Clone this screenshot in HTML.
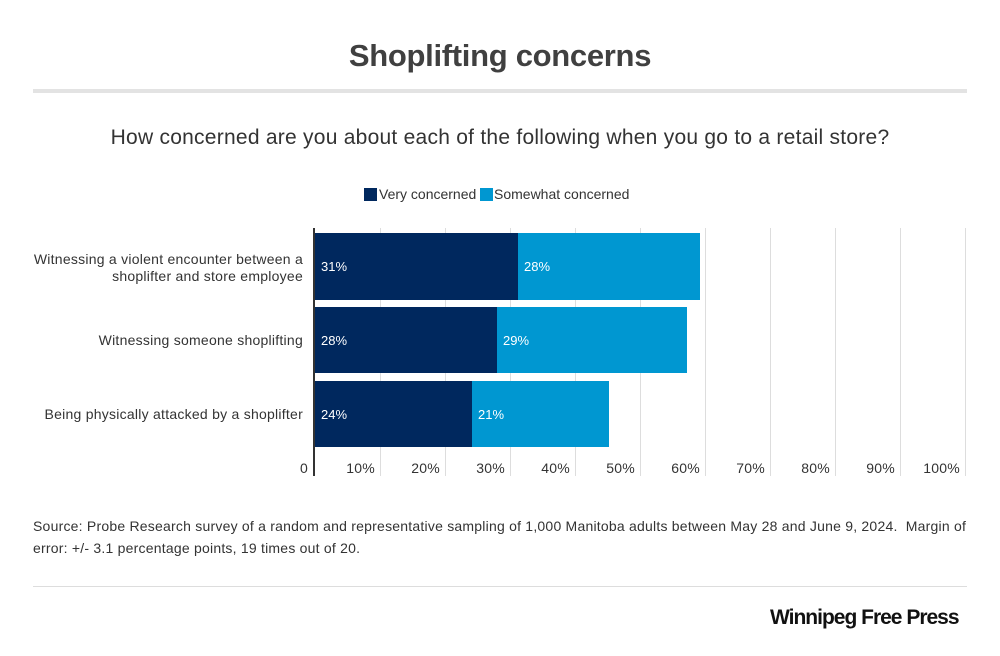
<!DOCTYPE html>
<html><head><meta charset="utf-8"><style>
body{margin:0;width:1000px;height:656px;background:#fff;font-family:"Liberation Sans",sans-serif;position:relative;overflow:hidden;color:#333}
.a{position:absolute}
</style></head><body>
<div class="a" style="left:0;width:1000px;top:38px;text-align:center;font-size:31px;font-weight:bold;color:#404040;letter-spacing:-0.3px">Shoplifting concerns</div>
<div class="a" style="left:33px;width:934px;top:89px;height:4px;background:#e3e3e3"></div>
<div class="a" style="left:0;width:1000px;top:126px;text-align:center;font-size:21px;letter-spacing:0.25px;color:#333">How concerned are you about each of the following when you go to a retail store?</div>
<div class="a" style="left:364px;top:188px;width:13px;height:13px;background:#00285e"></div>
<div class="a" style="left:379px;top:186px;font-size:14px">Very concerned</div>
<div class="a" style="left:480px;top:188px;width:13px;height:13px;background:#0097d1"></div>
<div class="a" style="left:494px;top:186px;font-size:14px">Somewhat concerned</div>
<svg class="a" style="left:0;top:0" width="1000" height="656">
<g stroke="#ddd" stroke-width="1">
<line x1="380.5" y1="228" x2="380.5" y2="476"/><line x1="445.5" y1="228" x2="445.5" y2="476"/><line x1="510.5" y1="228" x2="510.5" y2="476"/><line x1="575.5" y1="228" x2="575.5" y2="476"/><line x1="640.5" y1="228" x2="640.5" y2="476"/><line x1="705.5" y1="228" x2="705.5" y2="476"/><line x1="770.5" y1="228" x2="770.5" y2="476"/><line x1="835.5" y1="228" x2="835.5" y2="476"/><line x1="900.5" y1="228" x2="900.5" y2="476"/><line x1="965.5" y1="228" x2="965.5" y2="476"/>
</g>
<rect x="314" y="233" width="204" height="67" fill="#00285e"/><rect x="518" y="233" width="182" height="67" fill="#0097d1"/>
<rect x="314" y="307" width="183" height="66" fill="#00285e"/><rect x="497" y="307" width="190" height="66" fill="#0097d1"/>
<rect x="314" y="381" width="158" height="66" fill="#00285e"/><rect x="472" y="381" width="137" height="66" fill="#0097d1"/>
<line x1="314" y1="228" x2="314" y2="476" stroke="#333" stroke-width="2"/>
<g fill="#fff" font-size="13" font-family="Liberation Sans">
<text x="321" y="271">31%</text><text x="524" y="271">28%</text>
<text x="321" y="345">28%</text><text x="503" y="345">29%</text>
<text x="321" y="419">24%</text><text x="478" y="419">21%</text></g>
<g fill="#333" font-size="14" font-family="Liberation Sans" text-anchor="end" letter-spacing="0.25">
<text x="303" y="264">Witnessing a violent encounter between a</text>
<text x="303" y="281">shoplifter and store employee</text>
<text x="303" y="345">Witnessing someone shoplifting</text>
<text x="303" y="419">Being physically attacked by a shoplifter</text>
<text x="308" y="473">0</text><text x="375" y="473">10%</text><text x="440" y="473">20%</text><text x="505" y="473">30%</text><text x="570" y="473">40%</text><text x="635" y="473">50%</text><text x="700" y="473">60%</text><text x="765" y="473">70%</text><text x="830" y="473">80%</text><text x="895" y="473">90%</text><text x="960" y="473">100%</text>
</g></svg>
<div class="a" style="left:33px;top:515px;width:945px;font-size:14px;letter-spacing:0.22px;line-height:22px;color:#333">Source: Probe Research survey of a random and representative sampling of 1,000 Manitoba adults between May 28 and June 9, 2024.&nbsp; Margin of error: +/- 3.1 percentage points, 19 times out of 20.</div>
<div class="a" style="left:33px;width:934px;top:586px;height:1px;background:#ddd"></div>
<div class="a" style="left:770px;top:606px;font-size:21px;font-weight:bold;color:#111;letter-spacing:-1px">Winnipeg Free Press</div>
</body></html>
